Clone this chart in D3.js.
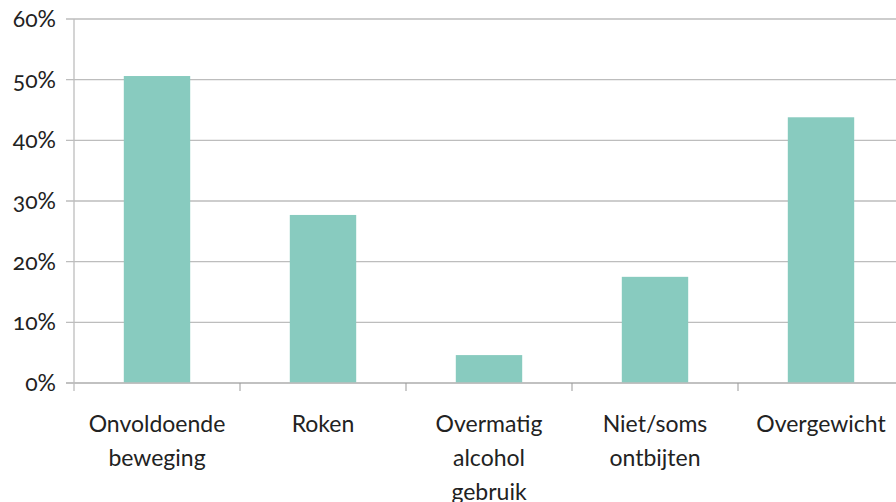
<!DOCTYPE html>
<html>
<head>
<meta charset="utf-8">
<script src="https://cdn.jsdelivr.net/npm/d3@7"></script>
<style>
  body { margin: 0; background: #fff; }
  svg text { font-family: Lato, "Open Sans", sans-serif; fill: #222; font-variant-numeric: oldstyle-nums; }
</style>
</head>
<body>
<svg width="896" height="502"></svg>
<script>
const categories = [
  ['Onvoldoende', 'beweging'],
  ['Roken'],
  ['Overmatig', 'alcohol', 'gebruik'],
  ['Niet/soms', 'ontbijten'],
  ['Overgewicht'],
];
const values = [0.506, 0.277, 0.046, 0.175, 0.438];
const yTicks = [0, 0.1, 0.2, 0.3, 0.4, 0.5, 0.6];

const svg = d3.select('svg');
const plotLeft = 74, plotRight = 904, plotTop = 19, plotBottom = 383;

const xScale = d3.scaleBand()
  .domain(d3.range(categories.length))
  .range([plotLeft, plotRight])
  .paddingInner(0.6)
  .paddingOuter(0.3);
const yScale = d3.scaleLinear()
  .domain([0, 0.6])
  .range([plotBottom, plotTop]);

// grid lines (with the little tick stub left of the axis)
svg.append('g')
  .selectAll('line')
  .data(yTicks)
  .join('line')
    .attr('x1', plotLeft - 8)
    .attr('x2', 896)
    .attr('y1', d => yScale(d))
    .attr('y2', d => yScale(d))
    .attr('stroke', '#bdbdbd')
    .attr('stroke-width', 1.3);

// y axis line
svg.append('line')
  .attr('x1', plotLeft).attr('x2', plotLeft)
  .attr('y1', plotTop).attr('y2', plotBottom + 8)
  .attr('stroke', '#bdbdbd')
  .attr('stroke-width', 1.3);

// y labels
svg.append('g')
  .selectAll('text')
  .data(yTicks)
  .join('text')
    .attr('x', 56)
    .attr('y', d => yScale(d) + 8)
    .attr('text-anchor', 'end')
    .style('font-size', '23px')
    .text(d => d3.format('.0%')(d));

// bars
svg.append('g')
  .selectAll('rect')
  .data(values)
  .join('rect')
    .attr('x', (d, i) => xScale(i))
    .attr('y', d => yScale(d))
    .attr('width', xScale.bandwidth())
    .attr('height', d => yScale(0) - yScale(d))
    .attr('fill', '#88cbbf');

// baseline on top of bars
svg.append('line')
  .attr('x1', plotLeft - 8).attr('x2', 896)
  .attr('y1', plotBottom).attr('y2', plotBottom)
  .attr('stroke', '#bdbdbd')
  .attr('stroke-width', 1.3);

// category separators
const step = xScale.step();
svg.append('g')
  .selectAll('line')
  .data(d3.range(1, categories.length))
  .join('line')
    .attr('x1', i => plotLeft + i * step)
    .attr('x2', i => plotLeft + i * step)
    .attr('y1', plotBottom)
    .attr('y2', plotBottom + 8)
    .attr('stroke', '#999')
    .attr('stroke-width', 1);

// x labels
const labels = svg.append('g')
  .selectAll('text')
  .data(categories)
  .join('text')
    .attr('text-anchor', 'middle')
    .style('font-size', '23px')
    .attr('x', (d, i) => xScale(i) + xScale.bandwidth() / 2)
    .attr('y', 432);
labels.selectAll('tspan')
  .data(d => d)
  .join('tspan')
    .attr('x', function() { return this.parentNode.getAttribute('x'); })
    .attr('dy', (d, i) => i === 0 ? 0 : 34)
    .text(d => d);
</script>
</body>
</html>
